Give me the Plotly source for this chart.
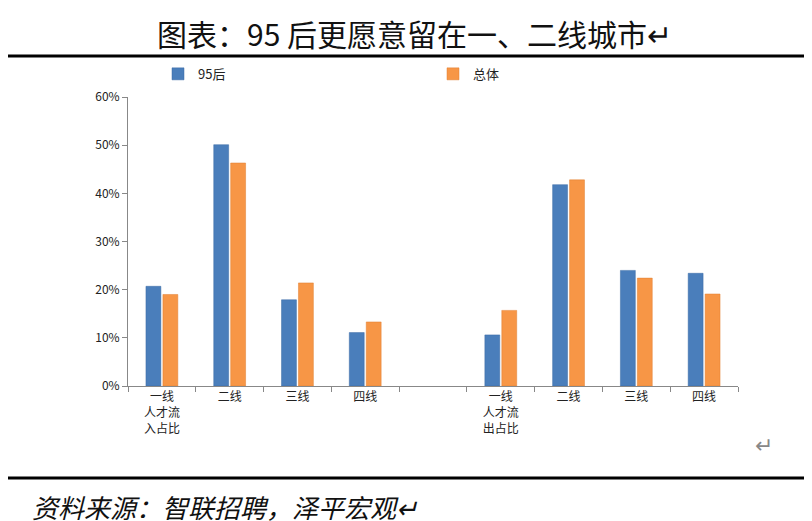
import plotly.graph_objects as go

# x positions: 0-3 inflow, 4 blank gap, 5-8 outflow
positions = [0, 1, 2, 3, 5, 6, 7, 8]
tick_labels = ["一线<br>人才流<br>入占比", "二线", "三线", "四线",
               "一线<br>人才流<br>出占比", "二线", "三线", "四线"]
post95 = [0.207, 0.501, 0.179, 0.111, 0.106, 0.418, 0.240, 0.234]
overall = [0.190, 0.463, 0.214, 0.133, 0.157, 0.428, 0.224, 0.191]

cjk = "Noto Sans CJK SC"

fig = go.Figure()
fig.add_trace(go.Bar(x=positions, y=post95, name="95后",
                     marker=dict(color="#4a7ebb", line=dict(color="#3a6aa5", width=0.5))))
fig.add_trace(go.Bar(x=positions, y=overall, name="总体",
                     marker=dict(color="#f79646", line=dict(color="#e07f30", width=0.5))))

fig.update_layout(
    width=812, height=521,
    paper_bgcolor="white", plot_bgcolor="white",
    margin=dict(l=120, r=82, t=89, b=143),
    barmode="group", bargap=0.5, bargroupgap=0.12,
    font=dict(family=cjk, size=12, color="#222"),
    legend=dict(orientation="h", x=0.5, xanchor="center", y=1.08, yanchor="middle",
                font=dict(size=13, family=cjk, color="#222"), entrywidth=230,
                itemwidth=30),
    showlegend=True,
)
fig.update_xaxes(range=[-0.5, 8.5], tickvals=positions, ticktext=tick_labels,
                 ticks="", showline=True, linecolor="#888", showgrid=False,
                 zeroline=False, tickfont=dict(size=12),
                 minor=dict(tick0=-0.5, dtick=1, ticks="outside", ticklen=5, tickcolor="#888"))
fig.update_yaxes(range=[0, 0.6], dtick=0.1, tickformat=".0%", showgrid=False,
                 showline=True, linecolor="#888", ticks="outside", ticklen=5,
                 tickcolor="#888", zeroline=False, tickfont=dict(size=12))

fig.add_annotation(text="图表：95 后更愿意留在一、二线城市↵", xref="paper", yref="paper",
                   x=0.47, y=1.0, yshift=88, xanchor="center", yanchor="top",
                   showarrow=False, font=dict(size=30, family=cjk, color="#111"))
fig.add_annotation(text="<i>资料来源：智联招聘，泽平宏观↵</i>", xref="paper", yref="paper",
                   x=-0.16, y=0, yshift=-100, xanchor="left", yanchor="top",
                   showarrow=False, font=dict(size=26, family=cjk, color="#111"))
fig.add_annotation(text="↵", xref="paper", yref="paper", x=1.06, y=0, yshift=-75,
                   showarrow=False, font=dict(size=22, color="#888"))
fig.add_shape(type="line", xref="paper", yref="paper", x0=-0.2, x1=1.14,
              y0=-0.318, y1=-0.318, line=dict(color="black", width=3))
fig.add_shape(type="line", xref="paper", yref="paper", x0=-0.2, x1=1.14,
              y0=1.142, y1=1.142, line=dict(color="black", width=3))

fig.write_html("out.html")
